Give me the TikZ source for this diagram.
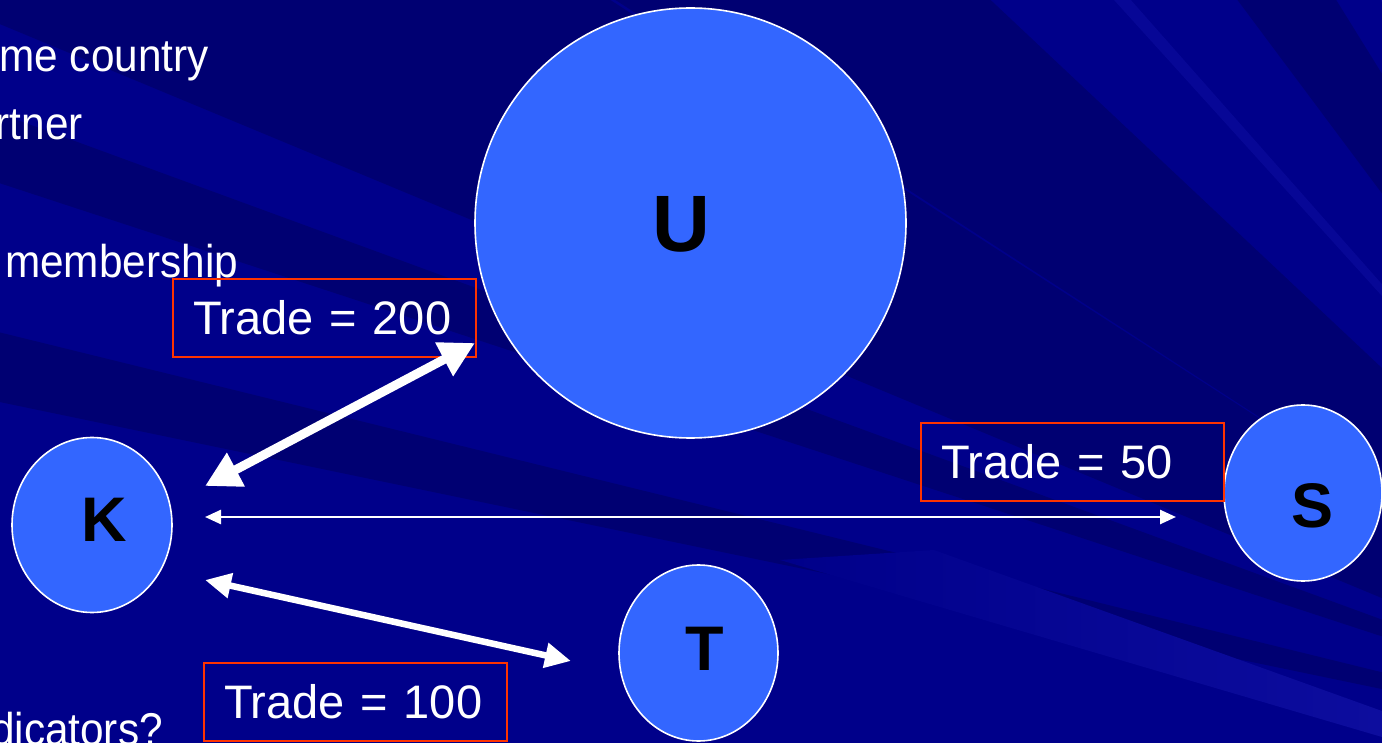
\documentclass[tikz,border=0pt]{standalone}
\usepackage{fontspec}
\setmainfont{Liberation Sans}
\newfontfamily\narrowfont[FakeStretch=0.92]{Liberation Sans}
\usetikzlibrary{arrows.meta,shapes.geometric}
\definecolor{bgblue}{HTML}{00008A}
\definecolor{bgdark}{HTML}{000072}
\definecolor{bglight}{HTML}{0D0D9E}
\definecolor{nodeblue}{HTML}{3366FF}
\definecolor{boxred}{HTML}{FF3300}
\tikzset{
  country/.style={ellipse, draw=white, line width=1.6pt, fill=nodeblue, inner sep=0pt},
  letter/.style={text=black, font=\bfseries\fontsize{63}{63}\selectfont, inner sep=0pt},
  tradebox/.style={draw=boxred, line width=2pt, minimum width=303pt, minimum height=78pt,
    text width=263pt, align=left, text=white, font=\fontsize{47}{47}\selectfont, inner sep=0pt},
  sidetext/.style={text=white, font=\narrowfont\fontsize{46}{46}\selectfont, inner sep=0pt},
  bigarrow/.style={draw=white, line width=9pt, {Triangle[length=35pt,width=36pt]}-{Triangle[length=35pt,width=36pt]}},
  midarrow/.style={draw=white, line width=6.5pt, {Triangle[length=26pt,width=24pt]}-{Triangle[length=26pt,width=24pt]}},
  thinarrow/.style={draw=white, line width=2.5pt, {Triangle[length=16pt,width=14pt]}-{Triangle[length=16pt,width=14pt]}},
  darkband/.style={fill=bgdark, draw=none},
  lightband/.style={fill=bglight, draw=none}
}
\begin{document}
\begin{tikzpicture}[x=1pt,y=-1pt]
\useasboundingbox (0,0) rectangle (1382,743);
% background
\fill[bgblue] (0,0) rectangle (1382,743);
\begin{scope}
\clip (0,0) rectangle (1382,743);
\coordinate (P) at (1820,780);
\fill[darkband] (P) -- (-10,-400) -- (-10,20) -- cycle;
\fill[darkband] (P) -- (-10,110) -- (-10,180) -- cycle;
\fill[darkband] (P) -- (-10,330) -- (-10,400) -- cycle;
\fill[darkband] (P) -- (600,-10) -- (980,-10) -- cycle;
\fill[darkband] (P) -- (1230,-10) -- (1330,-10) -- cycle;
\fill[lightband, opacity=0.6] (P) -- (1105,-10) -- (1122,-10) -- cycle;
\fill[lightband, opacity=0.6] (P) -- (1375,-10) -- (1420,-10) -- cycle;
\shade[left color=bgblue, right color=bglight] (780,560) -- (934,550) -- (1382,711) -- (1382,737) -- cycle;
\end{scope}

% left text fragments
\node[sidetext, anchor=base east] (t1) at (209,72) {me country};
\node[sidetext, anchor=base east] (t2) at (83,140) {rtner};
\node[sidetext, anchor=base west] (t3) at (5,278) {membership};
\node[sidetext, anchor=base east] (t4) at (163,745) {dicators?};

% countries
\node[country, minimum width=431pt, minimum height=430pt] (U) at (690.5,223) {};
\node[country, minimum width=160pt, minimum height=175pt] (K) at (92,525) {};
\node[country, minimum width=158pt, minimum height=176pt] (S) at (1303,493) {};
\node[country, minimum width=159pt, minimum height=176pt] (T) at (698.5,653) {};
\node[letter, font=\bfseries\fontsize{80}{80}\selectfont] (Ul) at (681,224) {U};
\node[letter] (Kl) at (104,520) {K};
\node[letter] (Sl) at (1312,506) {S};
\node[letter] (Tl) at (705,649) {T};

% trade boxes
\node[tradebox] (b200) at (324.5,318) {Trade = 200};
\node[tradebox] (b50) at (1072.5,461.5) {Trade = 50};
\node[tradebox] (b100) at (355.5,702) {Trade = 100};

% arrows
\coordinate (kuA) at (205,486);
\coordinate (kuB) at (475,343);
\coordinate (ksA) at (205,517);
\coordinate (ksB) at (1176,517);
\coordinate (ktA) at (205,580);
\coordinate (ktB) at (571,661);
\draw[bigarrow] (kuA) -- (kuB);
\draw[thinarrow] (ksA) -- (ksB);
\draw[midarrow] (ktA) -- (ktB);
\end{tikzpicture}
\end{document}
